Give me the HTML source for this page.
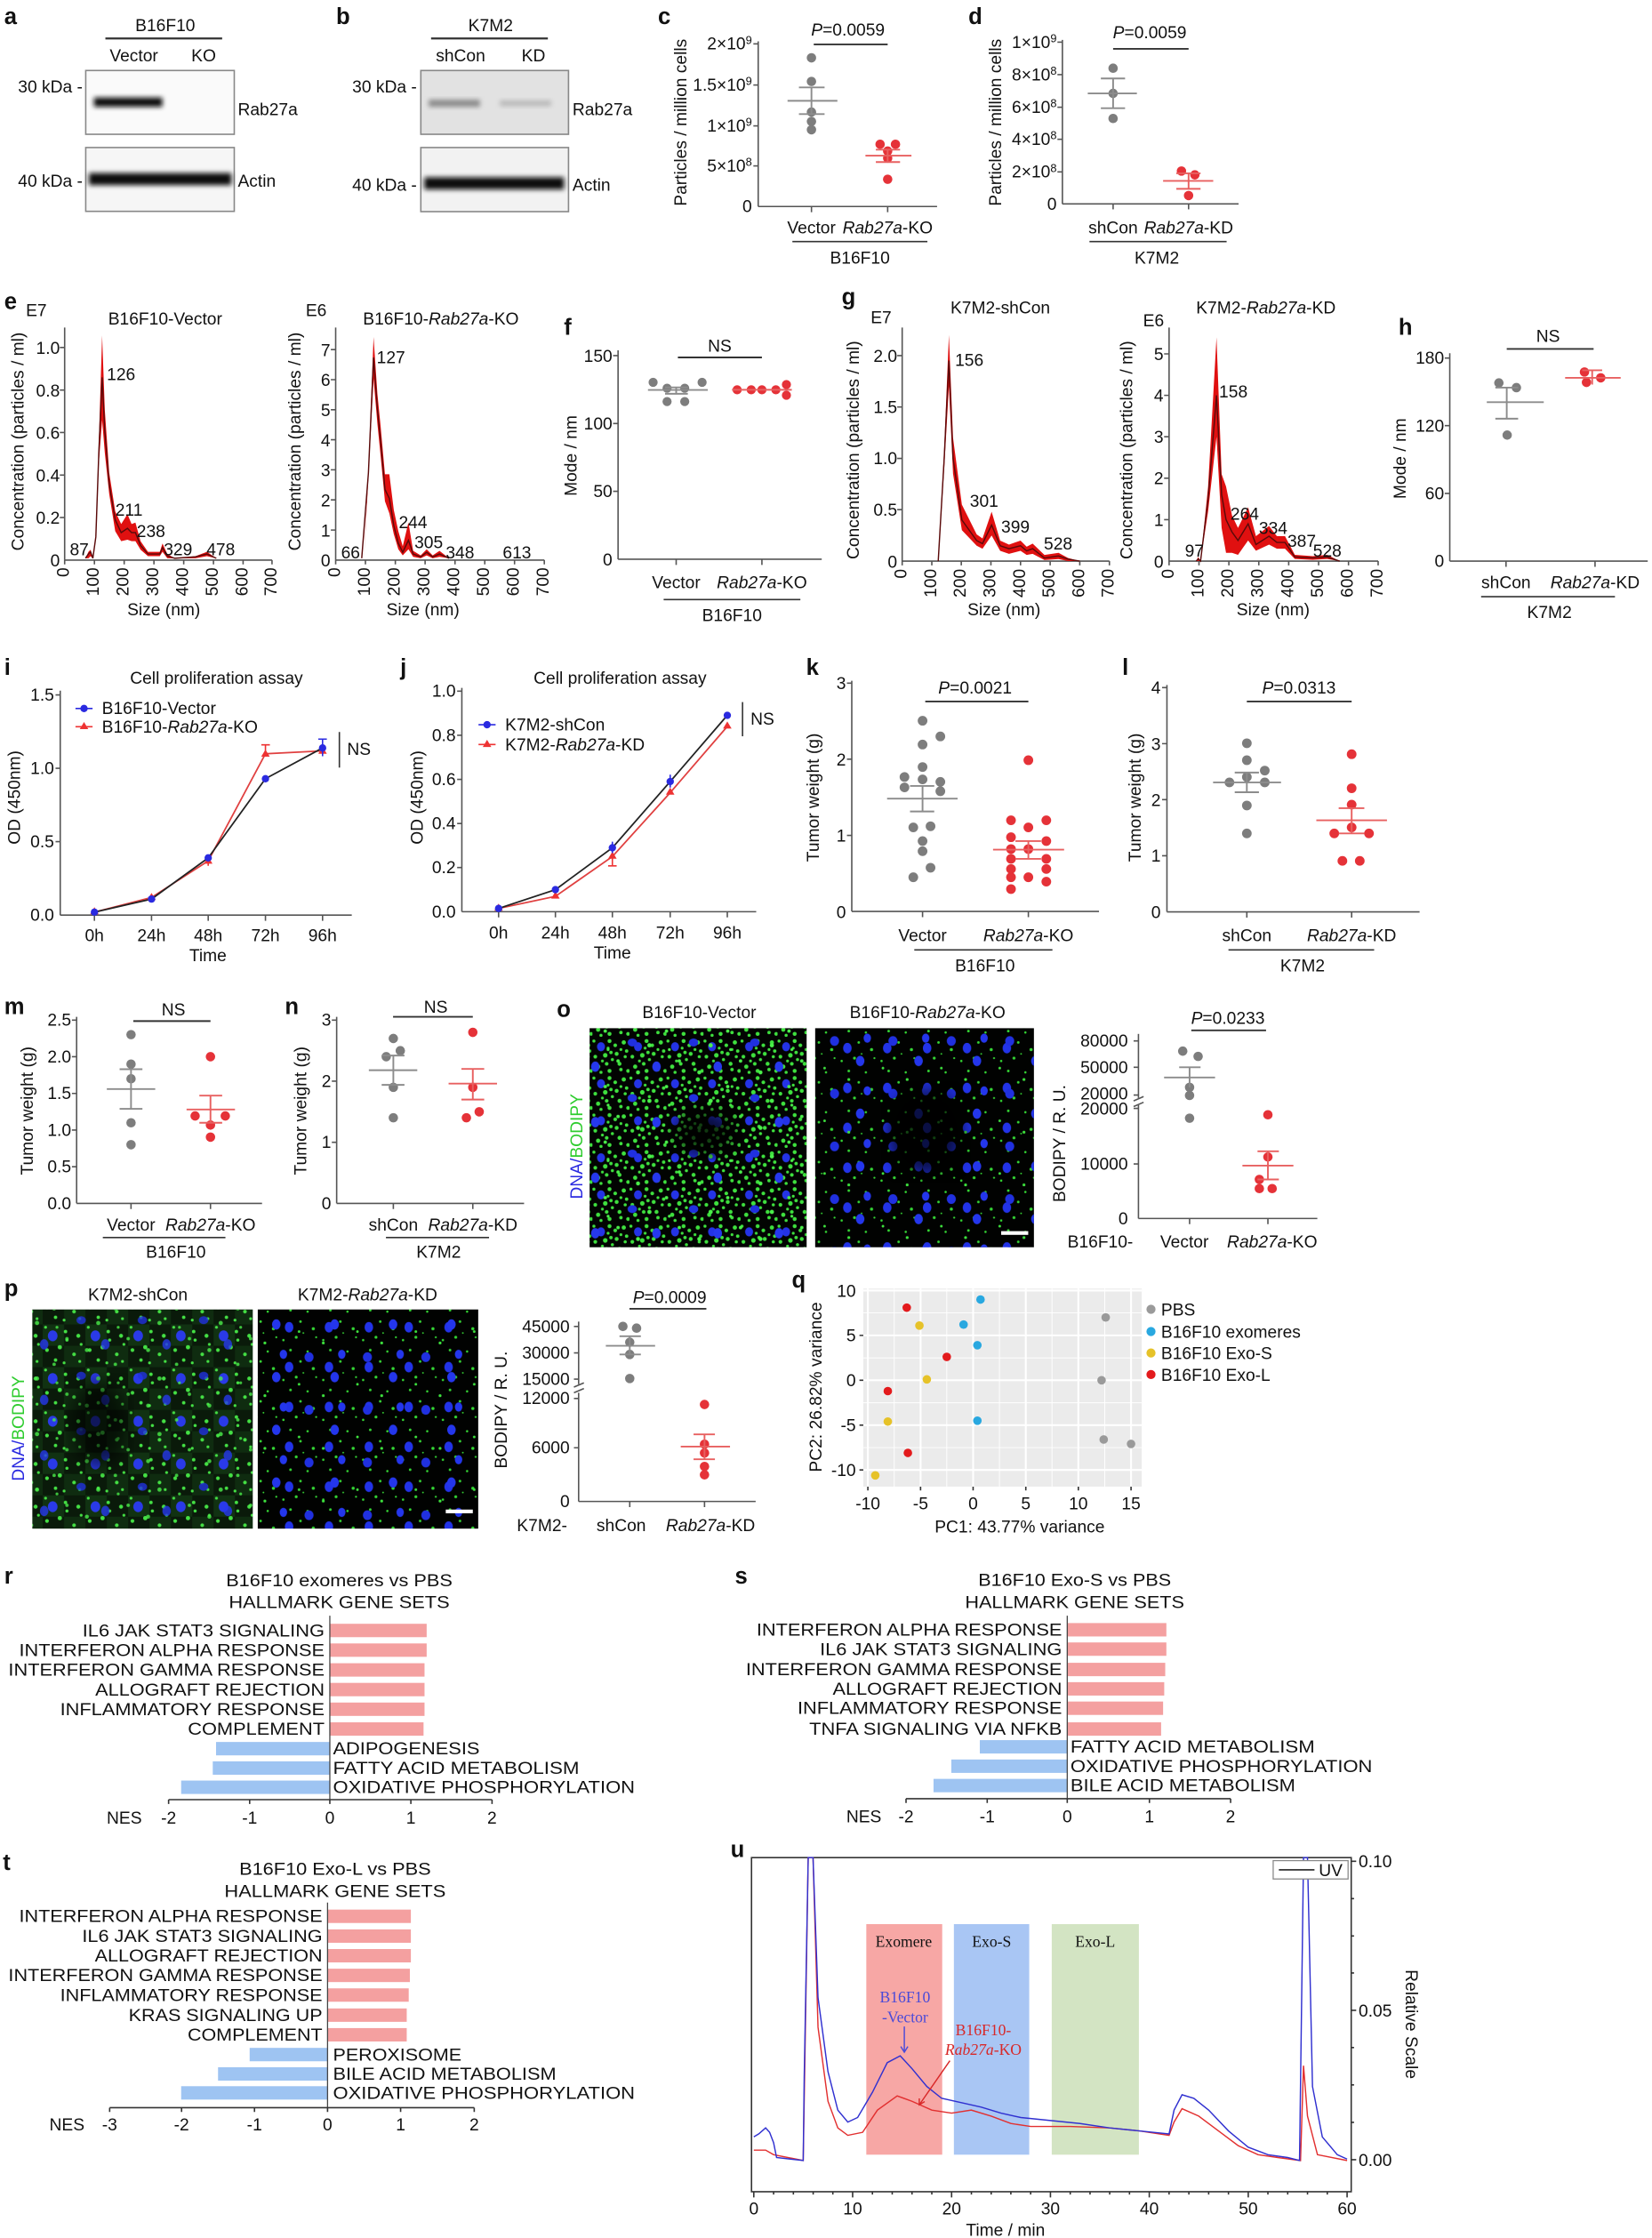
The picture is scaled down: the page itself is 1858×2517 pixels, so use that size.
<!DOCTYPE html>
<html><head><meta charset="utf-8"><style>
html,body{margin:0;padding:0;background:#fff}
svg{display:block}
text{font-family:"Liberation Sans Narrow","Liberation Sans",sans-serif;font-size:12px;fill:#111}
.r{font-family:"Liberation Sans",sans-serif}
.b{font-family:"Liberation Sans",sans-serif;font-weight:bold;font-size:16px}
.tk{font-size:11.5px}
.ax{stroke:#555;stroke-width:1;fill:none}
.gm{stroke:#8c8c8c;stroke-width:1.2;fill:none}
.rm{stroke:#e86060;stroke-width:1.2;fill:none}
.g{fill:#7d7d7d}
.rd{fill:#e53238}
.ser{font-family:"Liberation Serif",serif;font-size:11px}
.rot{font-family:"Liberation Sans",sans-serif;font-size:8.5px}
</style></head><body>
<svg width="1858" height="2517" viewBox="0 0 1160 1571.5" preserveAspectRatio="none" xmlns="http://www.w3.org/2000/svg">
<defs>
<filter id="bl" x="-20%" y="-50%" width="140%" height="200%"><feGaussianBlur stdDeviation="1.6"/></filter>
<filter id="bl2"><feGaussianBlur stdDeviation="6"/></filter>
<pattern id="dn1" width="26" height="26" patternUnits="userSpaceOnUse">
<rect width="26" height="26" fill="#020402"/>
<ellipse cx="6" cy="7" rx="2.8" ry="3.2" fill="#2433e6"/>
<g fill="#3ee03e"><circle cx="12" cy="3" r="1.4"/><circle cx="16" cy="6" r="1.3"/><circle cx="22" cy="4" r="1.5"/><circle cx="2" cy="14" r="1.3"/><circle cx="9" cy="13" r="1.6"/><circle cx="13" cy="11" r="1.2"/><circle cx="17" cy="12" r="1.4"/><circle cx="24" cy="10" r="1.2"/><circle cx="4" cy="21" r="1.5"/><circle cx="10" cy="19" r="1.3"/><circle cx="12" cy="24" r="1.4"/><circle cx="6" cy="25" r="1.1"/><circle cx="25" cy="24" r="1.3"/><circle cx="14" cy="16" r="1.1"/><circle cx="20" cy="9" r="1"/><circle cx="1" cy="3" r="1.1"/><circle cx="11" cy="8" r="1"/><circle cx="23" cy="14" r="1.1"/><circle cx="19" cy="19" r="1.4"/><circle cx="20" cy="23" r="1.2"/><circle cx="7" cy="17" r="1"/></g>
</pattern>
<pattern id="dn2" width="43" height="39" patternUnits="userSpaceOnUse">
<ellipse cx="31" cy="8" rx="3" ry="3.6" fill="#2638ee"/><ellipse cx="14" cy="30" rx="3.3" ry="2.8" fill="#2030e0"/>
<g fill="#4af04a"><circle cx="4" cy="4" r="1.2"/><circle cx="18" cy="12" r="1.4"/><circle cx="38" cy="22" r="1.2"/><circle cx="26" cy="32" r="1.5"/><circle cx="40" cy="35" r="1"/></g>
</pattern>
<pattern id="sp1" width="28" height="28" patternUnits="userSpaceOnUse">
<rect width="28" height="28" fill="#010201"/>
<ellipse cx="7" cy="8" rx="3" ry="3.7" fill="#2233e8"/>
<g fill="#34d634"><circle cx="15" cy="4" r="0.9"/><circle cx="24" cy="9" r="1.1"/><circle cx="3" cy="17" r="0.8"/><circle cx="12" cy="15" r="1"/><circle cx="8" cy="24" r="0.9"/><circle cx="26" cy="15" r="0.7"/><circle cx="17" cy="12" r="0.6"/><circle cx="20" cy="25" r="0.8"/></g>
</pattern>
<pattern id="sp2" width="41" height="37" patternUnits="userSpaceOnUse">
<ellipse cx="30" cy="5" rx="3" ry="3.6" fill="#2436ec"/><ellipse cx="12" cy="28" rx="3.2" ry="3.4" fill="#2030e0"/><ellipse cx="35" cy="26" rx="2.6" ry="3.2" fill="#2436ec"/>
<g fill="#3de23d"><circle cx="5" cy="10" r="0.9"/><circle cx="22" cy="18" r="1"/></g>
</pattern>
<pattern id="pf" width="30" height="30" patternUnits="userSpaceOnUse">
<rect width="30" height="30" fill="#0a1a0a"/>
<rect x="0" y="0" width="15" height="15" fill="#143c16" opacity="0.7"/><rect x="15" y="15" width="15" height="15" fill="#113412" opacity="0.7"/>
<ellipse cx="7" cy="8" rx="3.4" ry="3.8" fill="#2a3ae8"/>
<g fill="#44e044"><circle cx="16" cy="5" r="1.2"/><circle cx="25" cy="8" r="1.4"/><circle cx="3" cy="18" r="1.3"/><circle cx="12" cy="16" r="1.5"/><circle cx="9" cy="25" r="1.2"/><circle cx="27" cy="14" r="1"/><circle cx="17" cy="11" r="1.1"/><circle cx="15" cy="27" r="1"/><circle cx="2" cy="2" r="1"/><circle cx="22" cy="21" r="1.3"/><circle cx="26" cy="26" r="1"/></g>
</pattern>
</defs>

<!-- ===== a ===== -->
<text class="b" x="3" y="17">a</text>
<text x="116" y="22" text-anchor="middle">B16F10</text>
<line x1="74" y1="27" x2="156" y2="27" stroke="#333" stroke-width="1.4"/>
<text x="94" y="43" text-anchor="middle">Vector</text><text x="143" y="43" text-anchor="middle">KO</text>
<rect x="60.2" y="49.5" width="104.3" height="44.8" fill="#fafafa" stroke="#888"/>
<rect x="66" y="68.5" width="48" height="6.5" fill="#111" filter="url(#bl)"/>
<rect x="60.2" y="103.6" width="104.3" height="44.8" fill="#f6f6f6" stroke="#888"/>
<rect x="62.5" y="121.5" width="100" height="8.5" fill="#111" filter="url(#bl)"/>
<text x="58" y="65" text-anchor="end">30 kDa -</text>
<text x="58" y="131" text-anchor="end">40 kDa -</text>
<text x="167" y="81">Rab27a</text><text x="167" y="131">Actin</text>
<!-- ===== b ===== -->
<text class="b" x="236" y="17">b</text>
<text x="344.5" y="22" text-anchor="middle">K7M2</text>
<line x1="302.7" y1="27" x2="384.7" y2="27" stroke="#333" stroke-width="1.4"/>
<text x="323.4" y="43" text-anchor="middle">shCon</text><text x="374.6" y="43" text-anchor="middle">KD</text>
<rect x="295.5" y="49.5" width="103.7" height="44.8" fill="#e2e2e2" stroke="#888"/>
<rect x="301" y="70" width="36" height="5" fill="#8a8a8a" filter="url(#bl)"/>
<rect x="351" y="70.5" width="36" height="4" fill="#b8b8b8" filter="url(#bl)"/>
<rect x="295.5" y="103.6" width="103.7" height="45" fill="#f2f2f2" stroke="#888"/>
<rect x="298" y="124.5" width="98" height="8.5" fill="#111" filter="url(#bl)"/>
<text x="292.7" y="65" text-anchor="end">30 kDa -</text>
<text x="292.7" y="134" text-anchor="end">40 kDa -</text>
<text x="402" y="81">Rab27a</text><text x="402" y="134">Actin</text>

<!-- ===== c ===== -->
<text class="b" x="462" y="17">c</text>
<line class="ax" x1="532.4" y1="29" x2="532.4" y2="145"/><line class="ax" x1="532.4" y1="145" x2="658" y2="145"/>
<g class="ax"><line x1="529" y1="30.8" x2="532.4" y2="30.8"/><line x1="529" y1="59.7" x2="532.4" y2="59.7"/><line x1="529" y1="88.4" x2="532.4" y2="88.4"/><line x1="529" y1="116.5" x2="532.4" y2="116.5"/><line x1="569.8" y1="145" x2="569.8" y2="149"/><line x1="623.3" y1="145" x2="623.3" y2="149"/></g>
<g class="tk" text-anchor="end"><text x="528" y="34.8">2×10<tspan dy="-4" font-size="8">9</tspan></text><text x="528" y="63.7">1.5×10<tspan dy="-4" font-size="8">9</tspan></text><text x="528" y="92.4">1×10<tspan dy="-4" font-size="8">9</tspan></text><text x="528" y="120.5">5×10<tspan dy="-4" font-size="8">8</tspan></text><text x="528" y="149">0</text></g>
<text class="r" font-size="12" transform="translate(482,86) rotate(-90)" text-anchor="middle">Particles / million cells</text>
<text x="595.4" y="25" text-anchor="middle"><tspan font-style="italic">P</tspan>=0.0059</text>
<line x1="571.4" y1="31.2" x2="623.3" y2="31.2" stroke="#333" stroke-width="1.2"/>
<g class="g"><circle cx="569.8" cy="40.6" r="3.3"/><circle cx="569.8" cy="57.2" r="3.3"/><circle cx="569.8" cy="78.7" r="3.3"/><circle cx="569.8" cy="85.3" r="3.3"/><circle cx="569.8" cy="91.1" r="3.3"/></g>
<path class="gm" d="M553 70.8H588M569.8 61.4V80.1M561 61.4H579M561 80.1H579"/>
<g class="rd"><circle cx="618" cy="101.3" r="3.3"/><circle cx="628.8" cy="101.3" r="3.3"/><circle cx="623.3" cy="106.1" r="3.3"/><circle cx="623.3" cy="125.9" r="3.3"/><circle cx="623.3" cy="111" r="3.3"/></g>
<path class="rm" d="M607.7 109.3H640M623.3 105.1V113.8M615 105.1H632M615 113.8H632"/>
<text x="569.8" y="164" text-anchor="middle">Vector</text><text x="623.3" y="164" text-anchor="middle"><tspan font-style="italic">Rab27a</tspan>-KO</text>
<line x1="556.4" y1="169.6" x2="651.2" y2="169.6" stroke="#333"/>
<text x="603.8" y="185" text-anchor="middle">B16F10</text>

<!-- ===== d ===== -->
<text class="b" x="680" y="17">d</text>
<line class="ax" x1="746" y1="28" x2="746" y2="143.2"/><line class="ax" x1="746" y1="143.2" x2="869.7" y2="143.2"/>
<g class="ax"><line x1="742.5" y1="29.6" x2="746" y2="29.6"/><line x1="742.5" y1="52.4" x2="746" y2="52.4"/><line x1="742.5" y1="75.3" x2="746" y2="75.3"/><line x1="742.5" y1="97.8" x2="746" y2="97.8"/><line x1="742.5" y1="120.7" x2="746" y2="120.7"/><line x1="781.6" y1="143.2" x2="781.6" y2="147"/><line x1="834.6" y1="143.2" x2="834.6" y2="147"/></g>
<g class="tk" text-anchor="end"><text x="742" y="33.6">1×10<tspan dy="-4" font-size="8">9</tspan></text><text x="742" y="56.4">8×10<tspan dy="-4" font-size="8">8</tspan></text><text x="742" y="79.3">6×10<tspan dy="-4" font-size="8">8</tspan></text><text x="742" y="101.8">4×10<tspan dy="-4" font-size="8">8</tspan></text><text x="742" y="124.7">2×10<tspan dy="-4" font-size="8">8</tspan></text><text x="742" y="147.2">0</text></g>
<text class="r" font-size="12" transform="translate(703,86) rotate(-90)" text-anchor="middle">Particles / million cells</text>
<text x="807.3" y="27" text-anchor="middle"><tspan font-style="italic">P</tspan>=0.0059</text>
<line x1="781.6" y1="34.3" x2="834.6" y2="34.3" stroke="#333" stroke-width="1.2"/>
<g class="g"><circle cx="781.6" cy="47.9" r="3.3"/><circle cx="781.6" cy="65.6" r="3.3"/><circle cx="781.6" cy="83.2" r="3.3"/></g>
<path class="gm" d="M763.8 65.6H798.3M781.6 55.1V76M773 55.1H790M773 76H790"/>
<g class="rd"><circle cx="829.6" cy="120.1" r="3.3"/><circle cx="839" cy="122.8" r="3.3"/><circle cx="834.6" cy="137.3" r="3.3"/></g>
<path class="rm" d="M816.7 127H851.9M834.6 121.7V132.6M826 121.7H843M826 132.6H843"/>
<text x="781.6" y="164" text-anchor="middle">shCon</text><text x="834.6" y="164" text-anchor="middle"><tspan font-style="italic">Rab27a</tspan>-KD</text>
<line x1="765" y1="169.6" x2="861.3" y2="169.6" stroke="#333"/>
<text x="812.3" y="185" text-anchor="middle">K7M2</text>

<!-- ===== e ===== -->
<text class="b" x="3" y="217">e</text>
<text x="25.5" y="222" text-anchor="middle">E7</text>
<text x="116" y="228" text-anchor="middle">B16F10-Vector</text>
<line class="ax" x1="45.4" y1="230" x2="45.4" y2="393.3"/><line class="ax" x1="45.4" y1="393.3" x2="191" y2="393.3"/>
<g class="ax"><line x1="42" y1="244" x2="45.4" y2="244"/><line x1="42" y1="273.9" x2="45.4" y2="273.9"/><line x1="42" y1="303.7" x2="45.4" y2="303.7"/><line x1="42" y1="333.6" x2="45.4" y2="333.6"/><line x1="42" y1="363.4" x2="45.4" y2="363.4"/>
<path d="M45.4 393.3v3M66.3 393.3v3M87.2 393.3v3M108.1 393.3v3M129 393.3v3M149.9 393.3v3M170.7 393.3v3M191 393.3v3"/></g>
<g class="r" font-size="12.5" text-anchor="end"><text x="42" y="248.5">1.0</text><text x="42" y="278.4">0.8</text><text x="42" y="308.2">0.6</text><text x="42" y="338.1">0.4</text><text x="42" y="367.9">0.2</text><text x="42" y="397.8">0</text></g>
<g class="rot" text-anchor="end"><text transform="translate(48.5,398.5) rotate(-90)">0</text><text transform="translate(69.4,398.5) rotate(-90)">100</text><text transform="translate(90.3,398.5) rotate(-90)">200</text><text transform="translate(111.2,398.5) rotate(-90)">300</text><text transform="translate(132.1,398.5) rotate(-90)">400</text><text transform="translate(153,398.5) rotate(-90)">500</text><text transform="translate(173.8,398.5) rotate(-90)">600</text><text transform="translate(194.1,398.5) rotate(-90)">700</text></g>
<text class="r" font-size="12" x="115" y="432" text-anchor="middle">Size (nm)</text>
<text class="r" font-size="12.5" transform="translate(16.5,310) rotate(-90)" text-anchor="middle">Concentration (particles / ml)</text>
<polygon fill="#e01010" points="60,392 62.1,387.5 63.6,386 65.2,392 67.3,377 69.4,310 71.7,235.5 73.6,288 76.7,332 80.9,359 85.1,368 89.5,361 92.4,368 95.1,367 98.7,380 103.9,387.5 112.2,387.5 114.1,381.6 117.5,389 122.7,392 137.3,390.5 145.3,387.5 151.9,392 151.9,392 145.3,390.5 137.3,392 122.7,392 117.5,392 114.1,387.5 112.2,390.5 103.9,390.5 98.7,386 95.1,380 92.4,380 89.5,379 85.1,380 80.9,373 76.7,347 73.6,318 71.7,295 69.4,325 67.3,377 65.2,392 63.6,390.5 62.1,392"/>
<polyline fill="none" stroke="#5a0a0a" stroke-width="0.9" points="60,392 62.1,389 63.6,387.5 65.2,392 67.3,377 69.4,317.5 71.7,265 73.6,302.6 76.7,340 80.9,365 85.1,374 89.5,371 92.4,374 95.1,374 98.7,383 103.9,389 112.2,389 114.1,384.5 117.5,390.5 122.7,392 137.3,391 145.3,389 151.9,392"/>
<g font-size="12.5" class="r"><text x="75" y="267">126</text><text x="81" y="362">211</text><text x="96" y="377">238</text><text x="115" y="390">329</text><text x="145" y="390">478</text><text x="49" y="390">87</text></g>

<text x="222" y="222" text-anchor="middle">E6</text>
<text x="309.6" y="228" text-anchor="middle">B16F10-<tspan font-style="italic">Rab27a</tspan>-KO</text>
<line class="ax" x1="235.7" y1="230" x2="235.7" y2="393.3"/><line class="ax" x1="235.7" y1="393.3" x2="382.2" y2="393.3"/>
<g class="ax"><path d="M232.3 245.5h3.4M232.3 266.6h3.4M232.3 287.7h3.4M232.3 308.8h3.4M232.3 329.9h3.4M232.3 351h3.4M232.3 372.2h3.4"/>
<path d="M235.7 393.3v3M256.6 393.3v3M277.6 393.3v3M298.5 393.3v3M319.5 393.3v3M340.4 393.3v3M361.3 393.3v3M382.2 393.3v3"/></g>
<g class="r" font-size="12.5" text-anchor="end"><text x="232" y="250">7</text><text x="232" y="271.1">6</text><text x="232" y="292.2">5</text><text x="232" y="313.3">4</text><text x="232" y="334.4">3</text><text x="232" y="355.5">2</text><text x="232" y="376.7">1</text><text x="232" y="397.8">0</text></g>
<g class="rot" text-anchor="end"><text transform="translate(238.8,398.5) rotate(-90)">0</text><text transform="translate(259.7,398.5) rotate(-90)">100</text><text transform="translate(280.7,398.5) rotate(-90)">200</text><text transform="translate(301.6,398.5) rotate(-90)">300</text><text transform="translate(322.6,398.5) rotate(-90)">400</text><text transform="translate(343.5,398.5) rotate(-90)">500</text><text transform="translate(364.4,398.5) rotate(-90)">600</text><text transform="translate(385.3,398.5) rotate(-90)">700</text></g>
<text class="r" font-size="12" x="297" y="432" text-anchor="middle">Size (nm)</text>
<text class="r" font-size="12.5" transform="translate(211,310) rotate(-90)" text-anchor="middle">Concentration (particles / ml)</text>
<polygon fill="#e01010" points="255.6,392 258.7,329 262.3,236.6 265,276.5 267.1,297.5 270.3,333 273.4,333 276.5,358 279.7,373 282.8,383.6 286.8,366.8 290.1,386.8 295.4,390 299.6,385.7 303.8,390 308.6,386.8 315.3,392 308.6,391 303.8,392 299.6,390 295.4,392 290.1,391 286.8,385.7 282.8,390 279.7,385.7 276.5,375 273.4,360.5 270.3,352 267.1,318.5 265,297.5 262.3,266 258.7,335 255.6,392"/>
<polyline fill="none" stroke="#5a0a0a" stroke-width="0.9" points="254,392 258.7,332 262.3,251 265,287 267.1,308 270.3,343.7 273.4,350 276.5,369 279.7,381.5 282.8,387.8 286.8,379.4 290.1,389 295.4,391 299.6,387.8 303.8,391 308.6,389 315.3,392"/>
<g font-size="12.5" class="r"><text x="264.5" y="255">127</text><text x="280" y="371">244</text><text x="291" y="385">305</text><text x="313" y="392">348</text><text x="353" y="392">613</text><text x="239.5" y="392">66</text></g>

<!-- ===== f ===== -->
<text class="b" x="396" y="235">f</text>
<line class="ax" x1="434" y1="246" x2="434" y2="392.7"/><line class="ax" x1="434" y1="392.7" x2="577" y2="392.7"/>
<g class="ax"><path d="M430.5 249.7h3.5M430.5 297.4h3.5M430.5 345h3.5M474.8 392.7v4M535 392.7v4"/></g>
<g class="tk" text-anchor="end"><text x="430" y="254">150</text><text x="430" y="301.5">100</text><text x="430" y="349">50</text><text x="430" y="397">0</text></g>
<text class="r" font-size="12.5" transform="translate(405,320) rotate(-90)" text-anchor="middle">Mode / nm</text>
<text x="505.4" y="247" text-anchor="middle" font-size="12.5">NS</text>
<line x1="476" y1="251" x2="535" y2="251" stroke="#333" stroke-width="1.2"/>
<g class="g"><circle cx="458.6" cy="268.5" r="3.2"/><circle cx="493" cy="268.5" r="3.2"/><circle cx="468.4" cy="272.6" r="3.2"/><circle cx="480.8" cy="272.6" r="3.2"/><circle cx="468.4" cy="282" r="3.2"/><circle cx="480.8" cy="282" r="3.2"/></g>
<path class="gm" d="M455 273.8H497M474.8 272V276.5M467 272H483M467 276.5H483"/>
<g class="rd"><circle cx="517.6" cy="273.7" r="3.2"/><circle cx="527.5" cy="273.7" r="3.2"/><circle cx="535" cy="273.7" r="3.2"/><circle cx="544.8" cy="273.7" r="3.2"/><circle cx="552.2" cy="270" r="3.2"/><circle cx="552.2" cy="277.5" r="3.2"/></g>
<path class="rm" d="M514 273.7H556"/>
<text x="474.8" y="413" text-anchor="middle">Vector</text><text x="535" y="413" text-anchor="middle"><tspan font-style="italic">Rab27a</tspan>-KO</text>
<line x1="466" y1="421" x2="562" y2="421" stroke="#333"/>
<text x="514" y="436" text-anchor="middle">B16F10</text>

<!-- ===== g ===== -->
<text class="b" x="591" y="214">g</text>
<text x="618.7" y="227" text-anchor="middle">E7</text>
<text x="702.4" y="220" text-anchor="middle">K7M2-shCon</text>
<line class="ax" x1="633.5" y1="230" x2="633.5" y2="394"/><line class="ax" x1="633.5" y1="394" x2="779" y2="394"/>
<g class="ax"><path d="M630 249.7h3.5M630 285.8h3.5M630 321.9h3.5M630 357.9h3.5"/><path d="M633.5 394v3M654.3 394v3M675 394v3M695.8 394v3M716.6 394v3M737.4 394v3M758.2 394v3M779 394v3"/></g>
<g class="r" font-size="12.5" text-anchor="end"><text x="630" y="254">2.0</text><text x="630" y="290">1.5</text><text x="630" y="326">1.0</text><text x="630" y="362">0.5</text><text x="630" y="398.5">0</text></g>
<g class="rot" text-anchor="end"><text transform="translate(636.6,399.5) rotate(-90)">0</text><text transform="translate(657.4,399.5) rotate(-90)">100</text><text transform="translate(678.1,399.5) rotate(-90)">200</text><text transform="translate(698.9,399.5) rotate(-90)">300</text><text transform="translate(719.7,399.5) rotate(-90)">400</text><text transform="translate(740.5,399.5) rotate(-90)">500</text><text transform="translate(761.3,399.5) rotate(-90)">600</text><text transform="translate(782.1,399.5) rotate(-90)">700</text></g>
<text class="r" font-size="12" x="705" y="432" text-anchor="middle">Size (nm)</text>
<text class="r" font-size="12.5" transform="translate(603,316) rotate(-90)" text-anchor="middle">Concentration (particles / ml)</text>
<polygon fill="#e01010" points="658.8,394 663,314.6 666.3,235.2 669.2,307.4 675.4,354.3 685.8,375.2 689.9,378.1 696.3,359.3 702.3,379.6 708.5,382.4 716.6,379.6 720.9,383.9 725.1,381.7 733.4,389.7 743.3,388.2 749.9,391.8 758.2,394 749.9,394 743.3,392.6 733.4,393.3 725.1,388.9 720.9,389.7 716.6,386.8 708.5,388.9 702.3,386.8 696.3,376 689.9,385.3 685.8,383.2 675.4,372.3 669.2,332.6 666.3,271.3 663,329 658.8,394"/>
<polyline fill="none" stroke="#5a0a0a" stroke-width="0.9" points="658.8,394 663,321.8 666.3,253.2 669.2,321.8 675.4,365.1 685.8,379.6 689.9,381.7 696.3,368.7 702.3,383.2 708.5,385.3 716.6,383.2 720.9,386.8 725.1,385.3 733.4,391.8 743.3,390.4 749.9,392.6 758.2,394"/>
<g font-size="12.5" class="r"><text x="670.6" y="257">156</text><text x="681" y="356">301</text><text x="703" y="374">399</text><text x="733" y="386">528</text></g>

<text x="810" y="229" text-anchor="middle">E6</text>
<text x="888.9" y="220" text-anchor="middle">K7M2-<tspan font-style="italic">Rab27a</tspan>-KD</text>
<line class="ax" x1="820.9" y1="230" x2="820.9" y2="394"/><line class="ax" x1="820.9" y1="394" x2="967.7" y2="394"/>
<g class="ax"><path d="M817.4 364.9h3.5M817.4 335.8h3.5M817.4 306.7h3.5M817.4 277.6h3.5M817.4 248.5h3.5"/><path d="M820.9 394v3M841.9 394v3M862.9 394v3M883.9 394v3M904.9 394v3M925.9 394v3M946.9 394v3M967.7 394v3"/></g>
<g class="r" font-size="12.5" text-anchor="end"><text x="817" y="253">5</text><text x="817" y="282">4</text><text x="817" y="311">3</text><text x="817" y="340">2</text><text x="817" y="369.4">1</text><text x="817" y="398.5">0</text></g>
<g class="rot" text-anchor="end"><text transform="translate(824,399.5) rotate(-90)">0</text><text transform="translate(845,399.5) rotate(-90)">100</text><text transform="translate(866,399.5) rotate(-90)">200</text><text transform="translate(887,399.5) rotate(-90)">300</text><text transform="translate(908,399.5) rotate(-90)">400</text><text transform="translate(929,399.5) rotate(-90)">500</text><text transform="translate(950,399.5) rotate(-90)">600</text><text transform="translate(970.8,399.5) rotate(-90)">700</text></g>
<text class="r" font-size="12" x="894" y="432" text-anchor="middle">Size (nm)</text>
<text class="r" font-size="12.5" transform="translate(795,316) rotate(-90)" text-anchor="middle">Concentration (particles / ml)</text>
<polygon fill="#e01010" points="839.9,394 841.4,391.1 843,394 848.3,341.6 854.2,236.9 857.8,332.9 860.9,341.6 865.1,362 869.3,370.7 876.4,356.2 881.9,376.5 891.1,369.3 896.6,376.5 902.3,376.5 909.2,389.6 921.8,390.5 931.9,389.6 940.7,394 931.9,392.5 921.8,393.1 909.2,392.5 902.3,385.3 896.6,385.3 891.1,382.4 881.9,386.7 876.4,379.5 869.3,389.6 865.1,388.2 860.9,388.2 857.8,370.7 854.2,306.7 848.3,359.1 843,394"/>
<polyline fill="none" stroke="#5a0a0a" stroke-width="0.9" points="839.9,394 841.4,392.5 843,394 848.3,350.4 854.2,277.6 857.8,347.4 860.9,364.9 865.1,373.6 869.3,379.5 876.4,367.8 881.9,382.4 891.1,376.5 896.6,380.9 902.3,380.9 909.2,391.1 921.8,391.7 931.9,391.1 940.7,394"/>
<g font-size="12.5" class="r"><text x="856" y="279">158</text><text x="864" y="365">264</text><text x="884" y="375">334</text><text x="904" y="384">387</text><text x="922" y="391">528</text><text x="832" y="391">97</text></g>

<!-- ===== h ===== -->
<text class="b" x="982" y="235">h</text>
<line class="ax" x1="1018" y1="248" x2="1018" y2="394"/><line class="ax" x1="1018" y1="394" x2="1157" y2="394"/>
<g class="ax"><path d="M1014.5 251.4h3.5M1014.5 298.9h3.5M1014.5 346.5h3.5M1057.5 394v4M1120 394v4"/></g>
<g class="tk" text-anchor="end"><text x="1014" y="255.5">180</text><text x="1014" y="303">120</text><text x="1014" y="350.5">60</text><text x="1014" y="398">0</text></g>
<text class="r" font-size="12.5" transform="translate(987,322) rotate(-90)" text-anchor="middle">Mode / nm</text>
<text x="1087" y="240" text-anchor="middle" font-size="12.5">NS</text>
<line x1="1058" y1="245" x2="1119" y2="245" stroke="#333" stroke-width="1.2"/>
<g class="g"><circle cx="1052.5" cy="268.9" r="3.3"/><circle cx="1064.8" cy="272.2" r="3.3"/><circle cx="1058.3" cy="305.5" r="3.3"/></g>
<path class="gm" d="M1044 282.4H1084M1058 272.2V294M1050 272.2H1066M1050 294H1066"/>
<g class="rd"><circle cx="1112.6" cy="261.2" r="3.3"/><circle cx="1124" cy="265.3" r="3.3"/><circle cx="1114" cy="268.5" r="3.3"/></g>
<path class="rm" d="M1099 265.3H1138M1118 260V270M1111 260H1125"/>
<text x="1057.5" y="413" text-anchor="middle">shCon</text><text x="1120" y="413" text-anchor="middle"><tspan font-style="italic">Rab27a</tspan>-KD</text>
<line x1="1040" y1="419" x2="1134" y2="419" stroke="#333"/>
<text x="1088" y="434" text-anchor="middle">K7M2</text>

<!-- ===== i ===== -->
<text class="b" x="3" y="474">i</text>
<text x="152" y="480" text-anchor="middle">Cell proliferation assay</text>
<line class="ax" x1="42.3" y1="485" x2="42.3" y2="642.6"/><line class="ax" x1="42.3" y1="642.6" x2="247" y2="642.6"/>
<g class="ax"><path d="M39 488h3.3M39 539.5h3.3M39 591h3.3M66.3 642.6v4M106.4 642.6v4M146.2 642.6v4M186.4 642.6v4M226.5 642.6v4"/></g>
<g class="tk" text-anchor="end"><text x="38" y="492">1.5</text><text x="38" y="543.5">1.0</text><text x="38" y="595">0.5</text><text x="38" y="646.5">0.0</text></g>
<g class="tk" text-anchor="middle"><text x="66.3" y="661">0h</text><text x="106.4" y="661">24h</text><text x="146.2" y="661">48h</text><text x="186.4" y="661">72h</text><text x="226.5" y="661">96h</text></g>
<text x="146" y="675" text-anchor="middle">Time</text>
<text class="r" font-size="12.5" transform="translate(14,560) rotate(-90)" text-anchor="middle">OD (450nm)</text>
<polyline fill="none" stroke="#e04040" stroke-width="1.1" points="66.3,640.5 106.4,630.2 146.2,604.5 186.4,529.3 226.5,527.3"/>
<polyline fill="none" stroke="#222" stroke-width="1.1" points="66.3,640.5 106.4,631.3 146.2,602.4 186.4,546.8 226.5,525.2"/>
<g fill="#e33"><path d="M66.3 637l3 5h-6z"/><path d="M106.4 627l3 5h-6z"/><path d="M146.2 601.5l3 5h-6z"/><path d="M186.4 526.3l3 5h-6z"/><path d="M226.5 524.3l3 5h-6z"/></g>
<path d="M186.4 523v6M183.5 523h6M146.2 600v8" stroke="#e33" fill="none"/>
<g fill="#2a2ae0"><circle cx="66.3" cy="640.5" r="2.6"/><circle cx="106.4" cy="631.3" r="2.6"/><circle cx="146.2" cy="602.4" r="2.6"/><circle cx="186.4" cy="546.8" r="2.6"/><circle cx="226.5" cy="525.2" r="2.6"/></g>
<path d="M226.5 519v12M223.5 519h6" stroke="#2a2ae0" fill="none"/>
<line x1="53" y1="497.5" x2="65" y2="497.5" stroke="#2a2ae0"/><circle cx="59" cy="497.5" r="2.6" fill="#2a2ae0"/>
<text x="71.6" y="501.5">B16F10-Vector</text>
<line x1="53" y1="510.3" x2="65" y2="510.3" stroke="#e33"/><path d="M59 507l3 5h-6z" fill="#e33"/>
<text x="71.6" y="514.5">B16F10-<tspan font-style="italic">Rab27a</tspan>-KO</text>
<line x1="238.3" y1="514" x2="238.3" y2="539" stroke="#333"/><text x="243.7" y="530">NS</text>

<!-- ===== j ===== -->
<text class="b" x="281" y="474">j</text>
<text x="435.4" y="480" text-anchor="middle">Cell proliferation assay</text>
<line class="ax" x1="324.3" y1="483" x2="324.3" y2="640.2"/><line class="ax" x1="324.3" y1="640.2" x2="531" y2="640.2"/>
<g class="ax"><path d="M321 485.3h3.3M321 516.3h3.3M321 547.3h3.3M321 578.3h3.3M321 609.2h3.3M350.1 640.2v4M390 640.2v4M430 640.2v4M470.6 640.2v4M510.7 640.2v4"/></g>
<g class="tk" text-anchor="end"><text x="320" y="489.3">1.0</text><text x="320" y="520.3">0.8</text><text x="320" y="551.3">0.6</text><text x="320" y="582.3">0.4</text><text x="320" y="613.2">0.2</text><text x="320" y="644.2">0.0</text></g>
<g class="tk" text-anchor="middle"><text x="350.1" y="659">0h</text><text x="390" y="659">24h</text><text x="430" y="659">48h</text><text x="470.6" y="659">72h</text><text x="510.7" y="659">96h</text></g>
<text x="430" y="673" text-anchor="middle">Time</text>
<text class="r" font-size="12.5" transform="translate(297,560) rotate(-90)" text-anchor="middle">OD (450nm)</text>
<polyline fill="none" stroke="#e04040" stroke-width="1.1" points="350.1,637.9 390,629.4 430,601.5 470.6,556.6 510.7,510.1"/>
<polyline fill="none" stroke="#222" stroke-width="1.1" points="350.1,637.9 390,624.7 430,595.3 470.6,548.8 510.7,502.3"/>
<g fill="#e33"><path d="M350.1 634.5l3 5h-6z"/><path d="M390 626l3 5h-6z"/><path d="M430 598l3 5h-6z"/><path d="M470.6 553l3 5h-6z"/><path d="M510.7 506.6l3 5h-6z"/></g>
<path d="M430 596v12M427 608h6" stroke="#e33" fill="none"/>
<g fill="#2a2ae0"><circle cx="350.1" cy="637.9" r="2.6"/><circle cx="390" cy="624.7" r="2.6"/><circle cx="430" cy="595.3" r="2.6"/><circle cx="470.6" cy="548.8" r="2.6"/><circle cx="510.7" cy="502.3" r="2.6"/></g>
<path d="M430 591v8M470.6 544v9" stroke="#2a2ae0" fill="none"/>
<line x1="336" y1="508.9" x2="348" y2="508.9" stroke="#2a2ae0"/><circle cx="342" cy="508.9" r="2.6" fill="#2a2ae0"/>
<text x="354.7" y="513">K7M2-shCon</text>
<line x1="336" y1="522.8" x2="348" y2="522.8" stroke="#e33"/><path d="M342 519.5l3 5h-6z" fill="#e33"/>
<text x="354.7" y="527">K7M2-<tspan font-style="italic">Rab27a</tspan>-KD</text>
<line x1="521.4" y1="493" x2="521.4" y2="517" stroke="#333"/><text x="527" y="509">NS</text>

<!-- ===== k ===== -->
<text class="b" x="566" y="474">k</text>
<line class="ax" x1="598.1" y1="478" x2="598.1" y2="640"/><line class="ax" x1="598.1" y1="640" x2="771.7" y2="640"/>
<g class="ax"><path d="M594.7 479.7h3.4M594.7 533.1h3.4M594.7 586.6h3.4M647.8 640v4M722.1 640v4"/></g>
<g class="tk" text-anchor="end"><text x="594" y="484">3</text><text x="594" y="537.5">2</text><text x="594" y="591">1</text><text x="594" y="644.5">0</text></g>
<text class="r" font-size="12.5" transform="translate(575,560) rotate(-90)" text-anchor="middle">Tumor weight (g)</text>
<text x="684.7" y="487" text-anchor="middle"><tspan font-style="italic">P</tspan>=0.0021</text>
<line x1="649.7" y1="492.6" x2="722.1" y2="492.6" stroke="#333" stroke-width="1.2"/>
<g class="g"><circle cx="647.8" cy="506.1" r="3.4"/><circle cx="660.3" cy="517.1" r="3.4"/><circle cx="647.8" cy="522.8" r="3.4"/><circle cx="647.8" cy="538.6" r="3.4"/><circle cx="635.1" cy="545.6" r="3.4"/><circle cx="647.8" cy="547.3" r="3.4"/><circle cx="660.3" cy="549" r="3.4"/><circle cx="635.1" cy="552.9" r="3.4"/><circle cx="660.3" cy="555.6" r="3.4"/><circle cx="641.3" cy="581" r="3.4"/><circle cx="653.4" cy="580.2" r="3.4"/><circle cx="647.8" cy="590.6" r="3.4"/><circle cx="647.8" cy="597.7" r="3.4"/><circle cx="653.4" cy="609.3" r="3.4"/><circle cx="641.3" cy="616" r="3.4"/></g>
<path class="gm" d="M622.9 560.8H672.4M647.8 551.9V569.8M639 551.9H656M639 569.8H656"/>
<g class="rd"><circle cx="722.1" cy="533.8" r="3.4"/><circle cx="709.9" cy="576" r="3.4"/><circle cx="734.7" cy="576" r="3.4"/><circle cx="722.1" cy="581" r="3.4"/><circle cx="709.9" cy="587.9" r="3.4"/><circle cx="734.7" cy="590.6" r="3.4"/><circle cx="722.1" cy="596.2" r="3.4"/><circle cx="709.9" cy="596.2" r="3.4"/><circle cx="734.7" cy="603.1" r="3.4"/><circle cx="709.9" cy="603.1" r="3.4"/><circle cx="709.9" cy="610.2" r="3.4"/><circle cx="734.7" cy="610.2" r="3.4"/><circle cx="722.1" cy="616" r="3.4"/><circle cx="709.9" cy="616" r="3.4"/><circle cx="734.7" cy="619.1" r="3.4"/><circle cx="709.9" cy="624.3" r="3.4"/></g>
<path class="rm" d="M697.3 596.6H747.2M722.1 590.6V603.1M713 590.6H731M713 603.1H731"/>
<text x="647.8" y="661" text-anchor="middle">Vector</text><text x="722.1" y="661" text-anchor="middle"><tspan font-style="italic">Rab27a</tspan>-KO</text>
<line x1="642" y1="667" x2="739" y2="667" stroke="#333"/>
<text x="691.6" y="682" text-anchor="middle">B16F10</text>

<!-- ===== l ===== -->
<text class="b" x="788" y="474">l</text>
<line class="ax" x1="819.4" y1="481" x2="819.4" y2="640.3"/><line class="ax" x1="819.4" y1="640.3" x2="996.8" y2="640.3"/>
<g class="ax"><path d="M816 482.8h3.4M816 522.2h3.4M816 561.5h3.4M816 600.9h3.4M875.5 640.3v4M949.1 640.3v4"/></g>
<g class="tk" text-anchor="end"><text x="815" y="487">4</text><text x="815" y="526.5">3</text><text x="815" y="566">2</text><text x="815" y="605">1</text><text x="815" y="644.5">0</text></g>
<text class="r" font-size="12.5" transform="translate(801,560) rotate(-90)" text-anchor="middle">Tumor weight (g)</text>
<text x="912.1" y="487" text-anchor="middle"><tspan font-style="italic">P</tspan>=0.0313</text>
<line x1="875.5" y1="492.6" x2="949.1" y2="492.6" stroke="#333" stroke-width="1.2"/>
<g class="g"><circle cx="875.5" cy="521.9" r="3.4"/><circle cx="875.5" cy="533.8" r="3.4"/><circle cx="888.1" cy="541.1" r="3.4"/><circle cx="875.5" cy="545.6" r="3.4"/><circle cx="863.3" cy="549.4" r="3.4"/><circle cx="888.1" cy="549.4" r="3.4"/><circle cx="875.5" cy="565.6" r="3.4"/><circle cx="875.5" cy="585.2" r="3.4"/></g>
<path class="gm" d="M851.8 549.4H899.5M875.5 542.5V556.3M867 542.5H884M867 556.3H884"/>
<g class="rd"><circle cx="949.1" cy="529.6" r="3.4"/><circle cx="949.1" cy="553.5" r="3.4"/><circle cx="949.1" cy="565" r="3.4"/><circle cx="949.1" cy="581" r="3.4"/><circle cx="936.9" cy="585.2" r="3.4"/><circle cx="961.3" cy="585.2" r="3.4"/><circle cx="942.6" cy="604.5" r="3.4"/><circle cx="954.8" cy="604.5" r="3.4"/></g>
<path class="rm" d="M924.3 576H973.9M949.1 567.5V585.2M940 567.5H958M940 585.2H958"/>
<text x="875.5" y="661" text-anchor="middle">shCon</text><text x="949.1" y="661" text-anchor="middle"><tspan font-style="italic">Rab27a</tspan>-KD</text>
<line x1="862.6" y1="667" x2="964.9" y2="667" stroke="#333"/>
<text x="914.6" y="682" text-anchor="middle">K7M2</text>

<!-- ===== m ===== -->
<text class="b" x="3" y="712">m</text>
<line class="ax" x1="53.8" y1="714" x2="53.8" y2="845"/><line class="ax" x1="53.8" y1="845" x2="184" y2="845"/>
<g class="ax"><path d="M50.5 716.3h3.3M50.5 742h3.3M50.5 767.8h3.3M50.5 793.5h3.3M50.5 819.3h3.3M92 845v4M147.8 845v4"/></g>
<g class="tk" text-anchor="end"><text x="50" y="720.3">2.5</text><text x="50" y="746">2.0</text><text x="50" y="771.8">1.5</text><text x="50" y="797.5">1.0</text><text x="50" y="823.3">0.5</text><text x="50" y="849">0.0</text></g>
<text class="r" font-size="12.5" transform="translate(23,780) rotate(-90)" text-anchor="middle">Tumor weight (g)</text>
<text x="121.8" y="713" text-anchor="middle" font-size="12.5">NS</text>
<line x1="93.6" y1="717" x2="147.8" y2="717" stroke="#333" stroke-width="1.2"/>
<g class="g"><circle cx="92" cy="726.5" r="3.3"/><circle cx="92" cy="747.2" r="3.3"/><circle cx="92" cy="757.5" r="3.3"/><circle cx="92" cy="788.4" r="3.3"/><circle cx="92" cy="803.8" r="3.3"/></g>
<path class="gm" d="M75 764.7H109M92 750.8V778.6M84 750.8H100M84 778.6H100"/>
<g class="rd"><circle cx="147.8" cy="742" r="3.3"/><circle cx="137" cy="783.6" r="3.3"/><circle cx="158.2" cy="783.6" r="3.3"/><circle cx="147.8" cy="790" r="3.3"/><circle cx="147.8" cy="798.5" r="3.3"/></g>
<path class="rm" d="M131 779.1H165M147.8 769.3V788.4M140 769.3H156M140 788.4H156"/>
<text x="92" y="864" text-anchor="middle">Vector</text><text x="147.8" y="864" text-anchor="middle"><tspan font-style="italic">Rab27a</tspan>-KO</text>
<line x1="72.2" y1="869" x2="158.3" y2="869" stroke="#333"/>
<text x="123.5" y="883" text-anchor="middle">B16F10</text>

<!-- ===== n ===== -->
<text class="b" x="200" y="712">n</text>
<line class="ax" x1="236.4" y1="714" x2="236.4" y2="845"/><line class="ax" x1="236.4" y1="845" x2="368" y2="845"/>
<g class="ax"><path d="M233 716.3h3.4M233 759.2h3.4M233 802.1h3.4M276.2 845v4M332 845v4"/></g>
<g class="tk" text-anchor="end"><text x="232.5" y="720.3">3</text><text x="232.5" y="763.2">2</text><text x="232.5" y="806.1">1</text><text x="232.5" y="849">0</text></g>
<text class="r" font-size="12.5" transform="translate(215,780) rotate(-90)" text-anchor="middle">Tumor weight (g)</text>
<text x="306" y="711" text-anchor="middle" font-size="12.5">NS</text>
<line x1="276" y1="714" x2="332" y2="714" stroke="#333" stroke-width="1.2"/>
<g class="g"><circle cx="276.2" cy="729.2" r="3.3"/><circle cx="281.1" cy="737.8" r="3.3"/><circle cx="271.2" cy="742" r="3.3"/><circle cx="276.2" cy="763.5" r="3.3"/><circle cx="276.2" cy="784.9" r="3.3"/></g>
<path class="gm" d="M259 751.5H293M276.2 741.2V761.8M268 741.2H284M268 761.8H284"/>
<g class="rd"><circle cx="332" cy="724.9" r="3.3"/><circle cx="332" cy="763.5" r="3.3"/><circle cx="336.5" cy="780.7" r="3.3"/><circle cx="327.5" cy="784.9" r="3.3"/></g>
<path class="rm" d="M315 760.9H349M332 750.6V772.1M324 750.6H340M324 772.1H340"/>
<text x="276.2" y="864" text-anchor="middle">shCon</text><text x="332" y="864" text-anchor="middle"><tspan font-style="italic">Rab27a</tspan>-KD</text>
<line x1="271" y1="869" x2="343.4" y2="869" stroke="#333"/>
<text x="308" y="883" text-anchor="middle">K7M2</text>

<!-- ===== o ===== -->
<text class="b" x="391" y="714">o</text>
<text x="491" y="715" text-anchor="middle">B16F10-Vector</text>
<text x="651.3" y="715" text-anchor="middle">B16F10-<tspan font-style="italic">Rab27a</tspan>-KO</text>
<rect x="414" y="722" width="152.4" height="153.8" fill="url(#dn1)"/>
<rect x="414" y="722" width="152.4" height="153.8" fill="url(#dn2)"/>
<ellipse cx="495" cy="795" rx="22" ry="16" fill="#000" opacity="0.75" filter="url(#bl2)"/>
<rect x="572.4" y="722" width="153.6" height="153.8" fill="url(#sp1)"/>
<rect x="572.4" y="722" width="153.6" height="153.8" fill="url(#sp2)"/>
<ellipse cx="650" cy="795" rx="26" ry="30" fill="#000" opacity="0.7" filter="url(#bl2)"/>
<rect x="703" y="864.5" width="19" height="2.6" fill="#fff"/>
<text class="r" font-size="12.5" transform="translate(409,805) rotate(-90)" text-anchor="middle"><tspan fill="#2a2ae0">DNA/</tspan><tspan fill="#2ecc2e">BODIPY</tspan></text>
<line class="ax" x1="799.4" y1="726" x2="799.4" y2="771"/><line class="ax" x1="799.4" y1="776" x2="799.4" y2="855.6"/><line class="ax" x1="799.4" y1="855.6" x2="925" y2="855.6"/>
<path d="M796 773l7-3M796 777l7-3" stroke="#555"/>
<g class="ax"><path d="M796 730.9h3.4M796 749.4h3.4M796 768.9h3.4M796 778.3h3.4M796 817.3h3.4M835.3 855.6v4M890.3 855.6v4"/></g>
<g class="tk" text-anchor="end"><text x="792" y="735">80000</text><text x="792" y="753.5">50000</text><text x="792" y="772">20000</text><text x="792" y="782.5">20000</text><text x="792" y="821.3">10000</text><text x="792" y="859.6">0</text></g>
<text class="r" font-size="12.5" transform="translate(748,803) rotate(-90)" text-anchor="middle">BODIPY / R. U.</text>
<text x="862.2" y="719" text-anchor="middle"><tspan font-style="italic">P</tspan>=0.0233</text>
<line x1="836.5" y1="723.5" x2="889" y2="723.5" stroke="#333" stroke-width="1.2"/>
<g class="g"><circle cx="830.5" cy="738.1" r="3.3"/><circle cx="841.3" cy="741.8" r="3.3"/><circle cx="835.3" cy="763.5" r="3.3"/><circle cx="835.3" cy="769.2" r="3.3"/><circle cx="835.3" cy="785.2" r="3.3"/></g>
<path class="gm" d="M817.4 756.6H853.2M835.3 749.4V763.5M828 749.4H843"/>
<g class="rd"><circle cx="890.3" cy="782.8" r="3.3"/><circle cx="890.3" cy="812.4" r="3.3"/><circle cx="884.3" cy="828.2" r="3.3"/><circle cx="884.3" cy="834.6" r="3.3"/><circle cx="893.3" cy="834.6" r="3.3"/></g>
<path class="rm" d="M872.4 818.5H908.2M890.3 808.4V828.2M883 808.4H898M883 828.2H898"/>
<text x="772.6" y="876" text-anchor="middle">B16F10-</text><text x="831.7" y="876" text-anchor="middle">Vector</text><text x="893.3" y="876" text-anchor="middle"><tspan font-style="italic">Rab27a</tspan>-KO</text>

<!-- ===== p ===== -->
<text class="b" x="3" y="910">p</text>
<text x="96.8" y="913" text-anchor="middle">K7M2-shCon</text>
<text x="258.1" y="913" text-anchor="middle">K7M2-<tspan font-style="italic">Rab27a</tspan>-KD</text>
<rect x="22.7" y="919.5" width="154.8" height="153.9" fill="url(#pf)"/>
<rect x="22.7" y="919.5" width="154.8" height="153.9" fill="url(#dn2)" opacity="0.8"/>
<ellipse cx="70" cy="1000" rx="20" ry="30" fill="#000" opacity="0.6" filter="url(#bl2)"/>
<rect x="181" y="919.5" width="154.8" height="153.9" fill="url(#sp1)"/>
<rect x="181" y="919.5" width="154.8" height="153.9" fill="url(#sp2)"/>
<rect x="313" y="1060" width="19" height="2.6" fill="#fff"/>
<text class="r" font-size="12.5" transform="translate(17,1003) rotate(-90)" text-anchor="middle"><tspan fill="#2a2ae0">DNA/</tspan><tspan fill="#2ecc2e">BODIPY</tspan></text>
<line class="ax" x1="406.3" y1="928" x2="406.3" y2="972"/><line class="ax" x1="406.3" y1="978" x2="406.3" y2="1054.3"/><line class="ax" x1="406.3" y1="1054.3" x2="530.6" y2="1054.3"/>
<path d="M403 974l7-3M403 978l7-3" stroke="#555"/>
<g class="ax"><path d="M403 931.4h3.3M403 950h3.3M403 968.4h3.3M403 982h3.3M403 1016.6h3.3M442.2 1054.3v4M494.7 1054.3v4"/></g>
<g class="tk" text-anchor="end"><text x="400" y="935.5">45000</text><text x="400" y="954">30000</text><text x="400" y="972.5">15000</text><text x="400" y="986">12000</text><text x="400" y="1020.6">6000</text><text x="400" y="1058.3">0</text></g>
<text class="r" font-size="12.5" transform="translate(356,990) rotate(-90)" text-anchor="middle">BODIPY / R. U.</text>
<text x="470.2" y="915" text-anchor="middle"><tspan font-style="italic">P</tspan>=0.0009</text>
<line x1="442" y1="919" x2="496" y2="919" stroke="#333" stroke-width="1.2"/>
<g class="g"><circle cx="437.4" cy="931.4" r="3.3"/><circle cx="447" cy="932.6" r="3.3"/><circle cx="442.2" cy="942.5" r="3.3"/><circle cx="442.2" cy="951.1" r="3.3"/><circle cx="442.2" cy="968" r="3.3"/></g>
<path class="gm" d="M425.4 945H460M442.2 938.3V951.1M435 938.3H450M435 951.1H450"/>
<g class="rd"><circle cx="494.7" cy="986.2" r="3.3"/><circle cx="494.7" cy="1014.1" r="3.3"/><circle cx="494.7" cy="1020.3" r="3.3"/><circle cx="494.7" cy="1029.7" r="3.3"/><circle cx="494.7" cy="1035.6" r="3.3"/></g>
<path class="rm" d="M478 1015.8H512.6M494.7 1007.2V1024.7M487 1007.2H502M487 1024.7H502"/>
<text x="380.6" y="1075" text-anchor="middle">K7M2-</text><text x="436.2" y="1075" text-anchor="middle">shCon</text><text x="498.9" y="1075" text-anchor="middle"><tspan font-style="italic">Rab27a</tspan>-KD</text>

<!-- ===== q ===== -->
<text class="b" x="556" y="904">q</text>
<rect x="606.2" y="904.8" width="195.5" height="139.1" fill="#ebebeb"/>
<g stroke="#fff" stroke-width="0.6"><path d="M627.9 904.8V1043.9M664.8 904.8V1043.9M701.8 904.8V1043.9M738.7 904.8V1043.9M775.7 904.8V1043.9M606.2 921.9H801.7M606.2 953.5H801.7M606.2 985H801.7M606.2 1016.5H801.7"/></g>
<g stroke="#fff" stroke-width="1.3"><path d="M609.4 904.8V1043.9M646.4 904.8V1043.9M683.3 904.8V1043.9M720.3 904.8V1043.9M757.2 904.8V1043.9M794.2 904.8V1043.9M606.2 906.2H801.7M606.2 937.7H801.7M606.2 969.2H801.7M606.2 1000.7H801.7M606.2 1032.2H801.7"/></g>
<g stroke="#333" stroke-width="1"><path d="M603.5 937.7h2.7M603.5 969.2h2.7M603.5 1000.7h2.7M603.5 1032.2h2.7M609.4 1043.9v2.7M646.4 1043.9v2.7M683.3 1043.9v2.7M720.3 1043.9v2.7M757.2 1043.9v2.7M794.2 1043.9v2.7"/></g>
<g class="r" font-size="12" text-anchor="end"><text x="601" y="910.5">10</text><text x="601" y="942">5</text><text x="601" y="973.5">0</text><text x="601" y="1005">-5</text><text x="601" y="1036.5">-10</text></g>
<g class="r" font-size="12" text-anchor="middle"><text x="609.4" y="1060">-10</text><text x="646.4" y="1060">-5</text><text x="683.3" y="1060">0</text><text x="720.3" y="1060">5</text><text x="757.2" y="1060">10</text><text x="794.2" y="1060">15</text></g>
<text class="r" font-size="12.5" x="716" y="1076" text-anchor="middle">PC1: 43.77% variance</text>
<text class="r" font-size="12.5" transform="translate(577,974) rotate(-90)" text-anchor="middle">PC2: 26.82% variance</text>
<g fill="#e31a1c"><circle cx="636.7" cy="918.2" r="3"/><circle cx="664.8" cy="952.8" r="3"/><circle cx="623.4" cy="976.8" r="3"/><circle cx="637.5" cy="1020.2" r="3"/></g>
<g fill="#e6c229"><circle cx="645.6" cy="930.8" r="3"/><circle cx="650.8" cy="968.6" r="3"/><circle cx="623.4" cy="998.2" r="3"/><circle cx="614.6" cy="1036" r="3"/></g>
<g fill="#29a8e0"><circle cx="688.5" cy="912.5" r="3"/><circle cx="676.6" cy="930.1" r="3"/><circle cx="686.3" cy="944.6" r="3"/><circle cx="686.3" cy="997.6" r="3"/></g>
<g fill="#9a9a9a"><circle cx="776.4" cy="925.1" r="3"/><circle cx="773.5" cy="969.2" r="3"/><circle cx="775" cy="1010.8" r="3"/><circle cx="794.2" cy="1013.9" r="3"/></g>
<circle cx="808.2" cy="919.4" r="3.2" fill="#9a9a9a"/><circle cx="808.2" cy="935" r="3.2" fill="#29a8e0"/><circle cx="808.2" cy="950" r="3.2" fill="#e6c229"/><circle cx="808.2" cy="965.2" r="3.2" fill="#e31a1c"/>
<g class="r" font-size="12.5"><text x="815.3" y="923.8">PBS</text><text x="815.3" y="939.4">B16F10 exomeres</text><text x="815.3" y="954.4">B16F10 Exo-S</text><text x="815.3" y="969.6">B16F10 Exo-L</text></g>

<!-- ===== r ===== -->
<text class="b" x="3" y="1112">r</text>
<text class="r" x="238.2" y="1114" text-anchor="middle" textLength="159" lengthAdjust="spacingAndGlyphs">B16F10 exomeres vs PBS</text>
<text class="r" x="238.2" y="1129" text-anchor="middle" textLength="155" lengthAdjust="spacingAndGlyphs">HALLMARK GENE SETS</text>
<g fill="#f4a0a0"><rect x="231.6" y="1140.2" width="68" height="9.4"/><rect x="231.6" y="1154" width="68" height="9.4"/><rect x="231.6" y="1167.9" width="66.5" height="9.4"/><rect x="231.6" y="1181.7" width="66.5" height="9.4"/><rect x="231.6" y="1195.5" width="66.5" height="9.4"/><rect x="231.6" y="1209.4" width="65.8" height="9.4"/></g>
<g fill="#9ec4f2"><rect x="151.7" y="1223.2" width="79.9" height="9.4"/><rect x="149.4" y="1236.8" width="82.2" height="9.4"/><rect x="127.2" y="1250.3" width="104.4" height="9.4"/></g>
<line x1="231.6" y1="1134.5" x2="231.6" y2="1264" stroke="#444" stroke-width="0.8"/>
<g class="r" text-anchor="end"><text x="227.9" y="1149" textLength="170" lengthAdjust="spacingAndGlyphs">IL6 JAK STAT3 SIGNALING</text><text x="227.9" y="1162.8" textLength="214.5" lengthAdjust="spacingAndGlyphs">INTERFERON ALPHA RESPONSE</text><text x="227.9" y="1176.7" textLength="222" lengthAdjust="spacingAndGlyphs">INTERFERON GAMMA RESPONSE</text><text x="227.9" y="1190.5" textLength="161" lengthAdjust="spacingAndGlyphs">ALLOGRAFT REJECTION</text><text x="227.9" y="1204.3" textLength="185.7" lengthAdjust="spacingAndGlyphs">INFLAMMATORY RESPONSE</text><text x="227.9" y="1218.2" textLength="96" lengthAdjust="spacingAndGlyphs">COMPLEMENT</text></g>
<g class="r"><text x="233.8" y="1232" textLength="103" lengthAdjust="spacingAndGlyphs">ADIPOGENESIS</text><text x="233.8" y="1245.6" textLength="173" lengthAdjust="spacingAndGlyphs">FATTY ACID METABOLISM</text><text x="233.8" y="1259.1" textLength="212" lengthAdjust="spacingAndGlyphs">OXIDATIVE PHOSPHORYLATION</text></g>
<path d="M118.4 1263.7H345.5M118.4 1263.7v3M175.3 1263.7v3M231.6 1263.7v3M288.5 1263.7v3M345.5 1263.7v3" stroke="#333" fill="none"/>
<g text-anchor="middle"><text x="87.3" y="1280.5">NES</text><text x="118.4" y="1280.5">-2</text><text x="175.3" y="1280.5">-1</text><text x="231.6" y="1280.5">0</text><text x="288.5" y="1280.5">1</text><text x="345.5" y="1280.5">2</text></g>

<!-- ===== s ===== -->
<text class="b" x="516" y="1112">s</text>
<text class="r" x="754.6" y="1113.5" text-anchor="middle" textLength="135.4" lengthAdjust="spacingAndGlyphs">B16F10 Exo-S vs PBS</text>
<text class="r" x="754.6" y="1129" text-anchor="middle" textLength="154" lengthAdjust="spacingAndGlyphs">HALLMARK GENE SETS</text>
<g fill="#f4a0a0"><rect x="749.4" y="1139.7" width="69.6" height="9.4"/><rect x="749.4" y="1153.3" width="69.6" height="9.4"/><rect x="749.4" y="1167.6" width="68.8" height="9.4"/><rect x="749.4" y="1181.2" width="68.1" height="9.4"/><rect x="749.4" y="1194.8" width="67.3" height="9.4"/><rect x="749.4" y="1209.4" width="65.9" height="9.4"/></g>
<g fill="#9ec4f2"><rect x="688" y="1221.9" width="61.4" height="9.4"/><rect x="668" y="1235.5" width="81.4" height="9.4"/><rect x="655.5" y="1249.1" width="93.9" height="9.4"/></g>
<line x1="749.4" y1="1134.5" x2="749.4" y2="1263" stroke="#444" stroke-width="0.8"/>
<g class="r" text-anchor="end"><text x="745.7" y="1148.5" textLength="214.5" lengthAdjust="spacingAndGlyphs">INTERFERON ALPHA RESPONSE</text><text x="745.7" y="1162.1" textLength="170" lengthAdjust="spacingAndGlyphs">IL6 JAK STAT3 SIGNALING</text><text x="745.7" y="1176.4" textLength="222" lengthAdjust="spacingAndGlyphs">INTERFERON GAMMA RESPONSE</text><text x="745.7" y="1190" textLength="161" lengthAdjust="spacingAndGlyphs">ALLOGRAFT REJECTION</text><text x="745.7" y="1203.6" textLength="185.7" lengthAdjust="spacingAndGlyphs">INFLAMMATORY RESPONSE</text><text x="745.7" y="1218.2" textLength="177.5" lengthAdjust="spacingAndGlyphs">TNFA SIGNALING VIA NFKB</text></g>
<g class="r"><text x="751.6" y="1230.7" textLength="171.6" lengthAdjust="spacingAndGlyphs">FATTY ACID METABOLISM</text><text x="751.6" y="1244.3" textLength="212" lengthAdjust="spacingAndGlyphs">OXIDATIVE PHOSPHORYLATION</text><text x="751.6" y="1257.9" textLength="158" lengthAdjust="spacingAndGlyphs">BILE ACID METABOLISM</text></g>
<path d="M636.2 1263H864.1M636.2 1263v3M693.2 1263v3M749.4 1263v3M807.1 1263v3M864.1 1263v3" stroke="#333" fill="none"/>
<g text-anchor="middle"><text x="606.6" y="1279.5">NES</text><text x="636.2" y="1279.5">-2</text><text x="693.2" y="1279.5">-1</text><text x="749.4" y="1279.5">0</text><text x="807.1" y="1279.5">1</text><text x="864.1" y="1279.5">2</text></g>

<!-- ===== t ===== -->
<text class="b" x="2" y="1313">t</text>
<text class="r" x="235.3" y="1316.5" text-anchor="middle" textLength="134.6" lengthAdjust="spacingAndGlyphs">B16F10 Exo-L vs PBS</text>
<text class="r" x="235.3" y="1332" text-anchor="middle" textLength="155.4" lengthAdjust="spacingAndGlyphs">HALLMARK GENE SETS</text>
<g fill="#f4a0a0"><rect x="230" y="1340.9" width="58.5" height="9.4"/><rect x="230" y="1354.8" width="58.5" height="9.4"/><rect x="230" y="1368.6" width="58.5" height="9.4"/><rect x="230" y="1382.4" width="57.8" height="9.4"/><rect x="230" y="1396.2" width="57" height="9.4"/><rect x="230" y="1410.3" width="55.6" height="9.4"/><rect x="230" y="1424.1" width="55.6" height="9.4"/></g>
<g fill="#9ec4f2"><rect x="175.3" y="1438" width="54.7" height="9.4"/><rect x="153.1" y="1451.6" width="76.9" height="9.4"/><rect x="127.2" y="1464.9" width="102.8" height="9.4"/></g>
<line x1="230" y1="1336" x2="230" y2="1480" stroke="#444" stroke-width="0.8"/>
<g class="r" text-anchor="end"><text x="226.4" y="1349.7" textLength="213" lengthAdjust="spacingAndGlyphs">INTERFERON ALPHA RESPONSE</text><text x="226.4" y="1363.6" textLength="168.7" lengthAdjust="spacingAndGlyphs">IL6 JAK STAT3 SIGNALING</text><text x="226.4" y="1377.4" textLength="159.8" lengthAdjust="spacingAndGlyphs">ALLOGRAFT REJECTION</text><text x="226.4" y="1391.2" textLength="220.5" lengthAdjust="spacingAndGlyphs">INTERFERON GAMMA RESPONSE</text><text x="226.4" y="1405" textLength="184.2" lengthAdjust="spacingAndGlyphs">INFLAMMATORY RESPONSE</text><text x="226.4" y="1419.1" textLength="136.1" lengthAdjust="spacingAndGlyphs">KRAS SIGNALING UP</text><text x="226.4" y="1432.9" textLength="94.7" lengthAdjust="spacingAndGlyphs">COMPLEMENT</text></g>
<g class="r"><text x="233.8" y="1446.8" textLength="90.3" lengthAdjust="spacingAndGlyphs">PEROXISOME</text><text x="233.8" y="1460.4" textLength="156.8" lengthAdjust="spacingAndGlyphs">BILE ACID METABOLISM</text><text x="233.8" y="1473.7" textLength="212" lengthAdjust="spacingAndGlyphs">OXIDATIVE PHOSPHORYLATION</text></g>
<path d="M77 1480H333M77 1480v3M127.5 1480v3M178.7 1480v3M230 1480v3M281.3 1480v3M333 1480v3" stroke="#333" fill="none"/>
<g text-anchor="middle"><text x="47" y="1496">NES</text><text x="77" y="1496">-3</text><text x="127.5" y="1496">-2</text><text x="178.7" y="1496">-1</text><text x="230" y="1496">0</text><text x="281.3" y="1496">1</text><text x="333" y="1496">2</text></g>

<!-- ===== u ===== -->
<text class="b" x="513" y="1304">u</text>
<rect x="608.3" y="1351.1" width="53.3" height="161.9" fill="#f7a7a5"/>
<rect x="669.8" y="1351.1" width="52.9" height="161.9" fill="#a9c6f4"/>
<rect x="738.5" y="1351.1" width="61.2" height="161.9" fill="#d3e4c3"/>
<text class="ser" x="634.6" y="1367" text-anchor="middle">Exomere</text>
<text class="ser" x="696.3" y="1367" text-anchor="middle">Exo-S</text>
<text class="ser" x="769" y="1367" text-anchor="middle">Exo-L</text>
<rect x="527.7" y="1304.4" width="421.1" height="234.6" fill="none" stroke="#333" stroke-width="1"/>
<polyline fill="none" stroke="#e23030" stroke-width="0.9" points="529.3,1509.8 537.6,1509.8 543.2,1513 564,1517.1 567.5,1304.4 570.9,1304.4 574.4,1423.5 581.4,1475.5 588.3,1494.2 595.3,1499.4 605.7,1497.3 616.1,1481.7 630,1471.7 640.4,1475.5 654.3,1481.7 668.2,1483.8 682,1481.7 696,1485.9 709.8,1491.1 723.7,1493.2 751.5,1493.2 779.2,1494.2 800.1,1496.3 820.9,1499.4 824.4,1490.1 830,1480.7 841.7,1485.9 855.6,1496.3 869.5,1506.7 883.4,1513 897.3,1515 913.2,1517.1 915.3,1450.5 918.1,1485.9 925.1,1513 945.9,1517.1"/>
<polyline fill="none" stroke="#3030d0" stroke-width="0.9" points="529.3,1500.5 532.8,1498.4 537.6,1494.2 540.4,1497.3 543.2,1504.6 545.3,1515 564,1517.1 564.7,1458.8 567.5,1304.4 570.9,1304.4 574.4,1402.7 581.4,1454.7 588.3,1481.7 595.3,1490.1 602.2,1486.9 612.6,1469.2 623,1448.4 632.1,1443.6 640.4,1452.6 650.8,1465.1 661.2,1473.4 675.1,1476.5 689,1479.6 702.9,1483.8 716.8,1486.9 737.6,1489 758.4,1491.1 779.2,1494.2 800.1,1496.3 820.9,1498.4 824.4,1481.7 830,1470.9 838.3,1473.4 848.7,1481.7 862.6,1496.3 876.4,1507.7 890.3,1513 904.2,1515 912.5,1517.1 915.3,1304.4 918.1,1304.4 921.6,1465.1 928.5,1500.5 939,1513 945.9,1516.1"/>
<text class="ser" x="635.5" y="1406" text-anchor="middle" style="fill:#4a4ad8">B16F10</text>
<text class="ser" x="635.5" y="1420" text-anchor="middle" style="fill:#4a4ad8">-Vector</text>
<path d="M635 1423V1441M632.5 1437l2.5 4 2.5-4" stroke="#4a4ad8" fill="none" stroke-width="0.9"/>
<text class="ser" x="690.5" y="1429" text-anchor="middle" style="fill:#d82828">B16F10-</text>
<text class="ser" x="690.5" y="1443" text-anchor="middle" style="fill:#d82828"><tspan font-style="italic">Rab27a</tspan>-KO</text>
<path d="M667 1447L645.5 1478M645.5 1473.5l0 4.5 3.8-2.3" stroke="#d82828" fill="none" stroke-width="0.9"/>
<rect x="894" y="1306.5" width="52.6" height="12.9" fill="#fff" stroke="#888" stroke-width="0.8"/>
<line x1="898" y1="1313" x2="923" y2="1313" stroke="#222"/>
<text class="r" x="926" y="1317.5" font-size="12">UV</text>
<g stroke="#333" fill="none"><path d="M529.3 1539v4M598.7 1539v4M668.2 1539v4M737.6 1539v4M807 1539v4M876.5 1539v4M945.9 1539v4"/>
<path d="M543.2 1539v2M557.1 1539v2M571 1539v2M584.8 1539v2M612.6 1539v2M626.5 1539v2M640.4 1539v2M654.3 1539v2M682.1 1539v2M696 1539v2M709.8 1539v2M723.7 1539v2M751.5 1539v2M765.4 1539v2M779.2 1539v2M793.1 1539v2M820.9 1539v2M834.8 1539v2M848.7 1539v2M862.6 1539v2M890.3 1539v2M904.2 1539v2M918.1 1539v2M932 1539v2"/>
<path d="M948.8 1307h3.5M948.8 1411.6h3.5M948.8 1516.5h3.5M948.8 1333.2h2M948.8 1359.4h2M948.8 1385.4h2M948.8 1437.8h2M948.8 1464h2M948.8 1490.3h2"/></g>
<g class="r" font-size="12" text-anchor="middle"><text x="529.3" y="1555">0</text><text x="598.7" y="1555">10</text><text x="668.2" y="1555">20</text><text x="737.6" y="1555">30</text><text x="807" y="1555">40</text><text x="876.5" y="1555">50</text><text x="945.9" y="1555">60</text></g>
<text x="706" y="1570" text-anchor="middle" font-size="12.5">Time / min</text>
<g class="r" font-size="12"><text x="954" y="1311">0.10</text><text x="954" y="1416">0.05</text><text x="954" y="1521">0.00</text></g>
<text class="r" font-size="12.5" transform="translate(987,1421.4) rotate(90)" text-anchor="middle">Relative Scale</text>
</svg>
</body></html>
